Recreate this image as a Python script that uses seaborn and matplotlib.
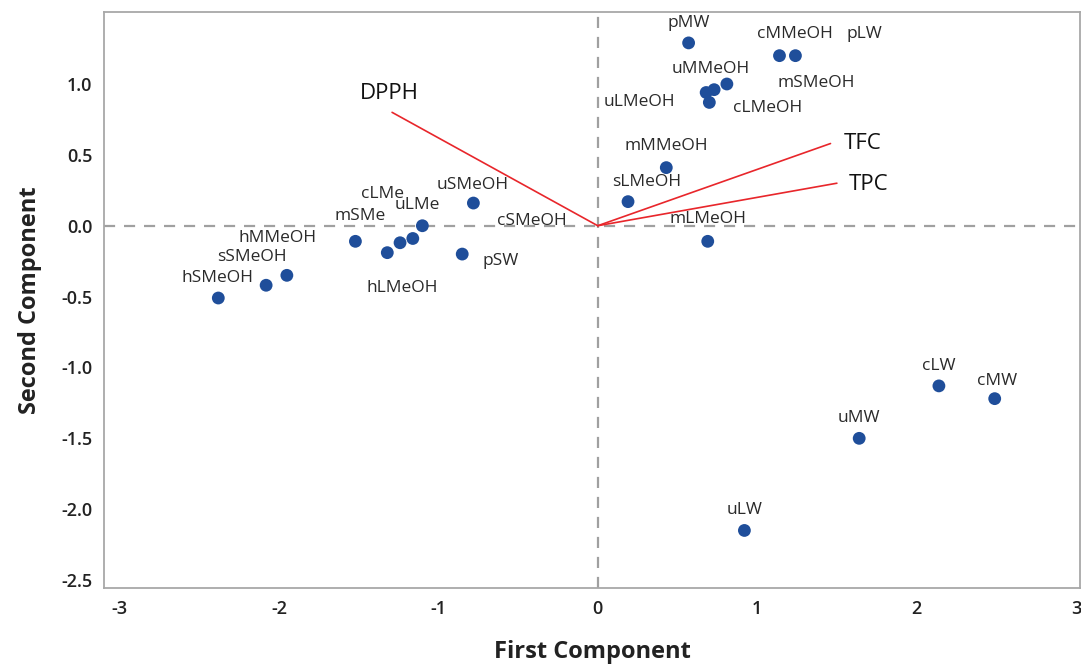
import matplotlib
matplotlib.use("Agg")
import matplotlib.pyplot as plt
import seaborn as sns
import pandas as pd

# ---- data ----
samples = ["pMW", "cMMeOH", "pLW", "uMMeOH", "mSMeOH", "uLMeOH", "cLMeOH",
           "mMMeOH", "sLMeOH", "mLMeOH", "uSMeOH", "cSMeOH", "uLMe", "cLMe",
           "hLMeOH", "mSMe", "pSW", "hMMeOH", "sSMeOH", "hSMeOH",
           "cLW", "cMW", "uMW", "uLW"]
pc1 = [0.57, 1.14, 1.24, 0.81, 0.73, 0.68, 0.70,
       0.43, 0.19, 0.69, -0.78, -1.10, -1.16, -1.24,
       -1.32, -1.52, -0.85, -1.95, -2.08, -2.38,
       2.14, 2.49, 1.64, 0.92]
pc2 = [1.29, 1.20, 1.20, 1.00, 0.96, 0.94, 0.87,
       0.41, 0.17, -0.11, 0.16, 0.00, -0.09, -0.12,
       -0.19, -0.11, -0.20, -0.35, -0.42, -0.51,
       -1.13, -1.22, -1.50, -2.15]

variables = ["DPPH", "TFC", "TPC"]
load1 = [-1.29, 1.46, 1.50]
load2 = [0.80, 0.58, 0.30]

# ---- label offsets (pixels) ----
offsets = {
    "pMW": (0, 20), "cMMeOH": (15, 22), "pLW": (69, 22), "uMMeOH": (-16, 15),
    "mSMeOH": (102, 7), "uLMeOH": (-67, -9), "cLMeOH": (58, -6),
    "mMMeOH": (0, 22), "sLMeOH": (19, 20), "mLMeOH": (0, 22),
    "uSMeOH": (-1, 18), "cSMeOH": (110, 5), "uLMe": (5, 33), "cLMe": (-18, 49),
    "hLMeOH": (15, -35), "mSMe": (5, 25), "pSW": (38, -7), "hMMeOH": (-9, 37),
    "sSMeOH": (-14, 28), "hSMeOH": (-1, 20),
    "cLW": (0, 20), "cMW": (2, 18), "uMW": (0, 20), "uLW": (0, 20),
}
var_offsets = {"DPPH": (-3, 19), "TFC": (32, 0), "TPC": (32, -1)}

df = pd.DataFrame({"First Component": pc1, "Second Component": pc2, "sample": samples})

sns.set_style("white")
plt.rcParams["font.family"] = ["Open Sans", "DejaVu Sans"]

fig = plt.figure(figsize=(10.81, 6.66), dpi=100)
ax = fig.add_axes([104 / 1081, 78 / 666, (1080 - 104) / 1081, (588 - 12) / 666])

ax.axhline(0, color="#a0a0a0", ls=(0, (5, 4)), lw=1.6, zorder=1)
ax.axvline(0, color="#a0a0a0", ls=(0, (5, 4)), lw=1.6, zorder=1)

for v, a, b in zip(variables, load1, load2):
    ax.plot([0, a], [0, b], color="#e8262b", lw=1.2, zorder=2)
    dx, dy = var_offsets[v]
    ax.annotate(v, (a, b), xytext=(dx, dy), textcoords="offset pixels",
                ha="center", va="center", fontsize=16, color="#111111")

sns.scatterplot(data=df, x="First Component", y="Second Component", ax=ax,
                color="#1f4e9a", s=85, edgecolor="none", zorder=3)

for name, x, y in zip(samples, pc1, pc2):
    dx, dy = offsets[name]
    ax.annotate(name, (x, y), xytext=(dx, dy), textcoords="offset pixels",
                ha="center", va="center", fontsize=12.5, color="#2a2a2a",
                zorder=4)

ax.set_xlim(-3.097, 3.025)
ax.set_ylim(-2.556, 1.508)
ax.set_xticks([-3, -2, -1, 0, 1, 2, 3])
ax.set_xticklabels(["-3", "-2", "-1", "0", "1", "2", "3"])
ax.set_yticks([-2.5, -2.0, -1.5, -1.0, -0.5, 0.0, 0.5, 1.0])
ax.set_yticklabels(["-2.5", "-2.0", "-1.5", "-1.0", "-0.5", "0.0", "0.5", "1.0"])

for sp in ax.spines.values():
    sp.set_color("#a8a8a8")
    sp.set_linewidth(1.3)
ax.tick_params(axis="both", direction="out", length=5, width=1, color="#a8a8a8",
               labelsize=13, labelcolor="#222222")
for lab in ax.get_xticklabels() + ax.get_yticklabels():
    lab.set_fontweight("semibold")

ax.set_xlabel("First Component", fontsize=17, fontweight="bold", color="#222222", labelpad=16)
ax.set_ylabel("Second Component", fontsize=17, fontweight="bold", color="#222222", labelpad=14)

fig.savefig("out.png", dpi=100)
